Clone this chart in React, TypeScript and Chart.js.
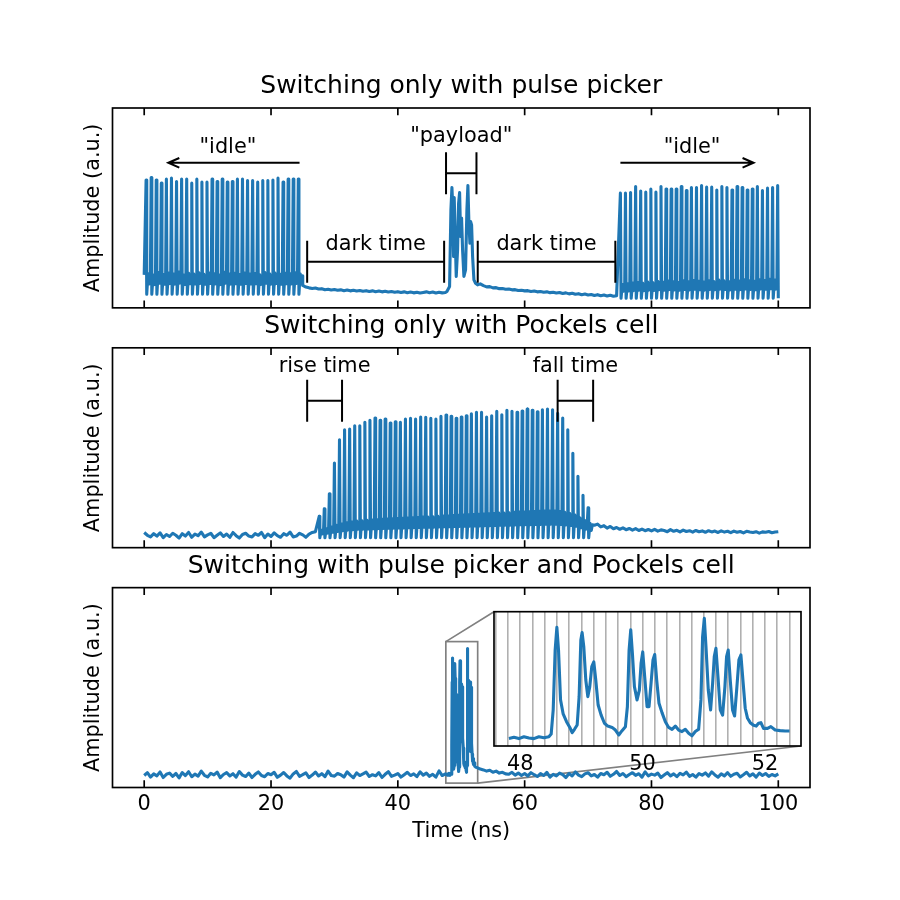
import { useEffect, useRef } from "react";
import { Chart, registerables } from "chart.js";

Chart.register(...registerables);

const FONT = "DejaVu Sans";
const BLUE = "#1f77b4";
Chart.defaults.font.family = FONT;
Chart.defaults.color = "#000";

// ---------------- data (time in ns, amplitude in a.u. x1000) ----------------
const xTickValues = [0, 20, 40, 60, 80, 100];
const pulsePeriod = 0.8;
const ringOffsets = [0.1, 0.3, 0.5, 0.68];
const ringShape = [0, 1, 0.5, 0.9];
const sampleStep = 0.5;
const traceEnd = 100.05;

// panel 1: pulse picker only
const idle1Start = 0.3;
const idle1Lead = 165;
const idle1Peaks = [640, 652, 640, 624, 644, 649, 632, 645, 645, 624, 644, 629, 629, 644, 632, 644, 629, 632, 644, 645, 637, 637, 629, 637, 637, 640, 649, 629, 644, 645, 645];
const idle1Ring = [172, 165, 178, 168, 175, 170, 180, 166, 174, 171, 177, 169, 176, 172, 165, 179, 170, 174, 168, 176, 171, 173, 167, 178, 170, 175, 169, 174, 172, 177, 171];
const idle1Low = 68;
const dark1Start = 25;
const dark1 = [112, 104, 100, 97, 99, 94, 96, 91, 93, 89, 92, 88, 90, 86, 89, 85, 88, 84, 87, 83, 86, 82, 85, 81, 84, 80, 83, 79, 82, 78, 81, 77, 80, 76, 79, 75, 78, 74, 77, 80, 76, 79, 74, 78, 75, 77];
const payload1T = [47.74, 48.16, 48.37, 48.53, 48.68, 48.79, 48.89, 49.05, 49.21, 49.42, 49.58, 49.74, 49.9, 50.05, 50.21, 50.42, 50.68, 50.89, 51.05, 51.21, 51.37, 51.47, 51.63, 51.79, 52.0, 52.26, 52.58];
const payload1V = [82, 107, 490, 602, 490, 257, 552, 357, 157, 290, 523, 577, 357, 449, 290, 157, 190, 490, 612, 423, 323, 432, 415, 257, 140, 123, 115];
const dark2Start = 53;
const dark2 = [120, 111, 105, 106, 100, 101, 96, 97, 93, 94, 90, 91, 87, 88, 85, 86, 82, 84, 80, 82, 78, 80, 76, 78, 74, 77, 72, 75, 70, 73, 68, 71, 66, 69, 64, 67, 62, 66, 61, 64, 59, 63, 58, 61];
const idle2Start = 75.1;
const idle2Peaks = [574, 574, 577, 607, 585, 579, 594, 579, 607, 595, 594, 595, 607, 587, 602, 602, 612, 604, 604, 590, 607, 602, 590, 607, 602, 590, 595, 607, 587, 599, 602, 612];
const idle2Ring = [118, 122, 125, 128, 124, 130, 127, 133, 129, 135, 131, 128, 136, 132, 138, 134, 130, 137, 133, 140, 136, 132, 139, 135, 141, 137, 134, 142, 138, 144, 140, 146];
const idle2Low = 48;

// panel 2: Pockels cell only
const pcPreStart = 0;
const pcPre = [76, 62, 54, 70, 58, 74, 50, 66, 56, 72, 62, 48, 70, 58, 76, 52, 68, 60, 78, 54, 64, 72, 50, 62, 74, 56, 68, 52, 76, 60, 48, 66, 72, 58, 54, 70, 62, 76, 50, 68, 56, 74, 60, 52, 70, 62, 78, 54, 58, 72, 64, 52, 68, 76, 80];
const pcStart = 27.6;
const pcPeaks = [157, 194, 270, 424, 540, 590, 594, 610, 610, 627, 637, 649, 637, 644, 624, 630, 627, 644, 647, 644, 654, 652, 647, 644, 657, 664, 657, 647, 654, 660, 670, 677, 677, 654, 660, 682, 665, 687, 682, 677, 684, 694, 687, 680, 690, 694, 690, 672, 649, 590, 472, 357, 262, 199];
const pcRing = [88, 96, 104, 112, 120, 126, 130, 134, 136, 138, 140, 141, 143, 144, 146, 147, 148, 150, 151, 152, 154, 155, 156, 158, 159, 160, 162, 163, 164, 166, 167, 168, 170, 171, 172, 174, 175, 176, 178, 179, 180, 181, 182, 183, 184, 185, 184, 182, 178, 172, 164, 150, 136, 122];
const pcLow = 50;
const pcPostStart = 71;
const pcPost = [112, 118, 104, 110, 98, 106, 95, 101, 92, 99, 90, 96, 88, 95, 86, 93, 85, 91, 84, 92, 83, 89, 86, 80, 90, 82, 87, 79, 88, 81, 85, 78, 86, 80, 84, 77, 85, 79, 83, 76, 84, 78, 82, 75, 83, 77, 81, 74, 82, 78, 76, 80, 73, 79, 77, 81, 75, 78, 80];

// panel 3: pulse picker and Pockels cell (payload shared with inset)
const p3PreStart = 0;
const p3Pre = [60, 74, 52, 68, 58, 78, 50, 66, 72, 56, 70, 48, 75, 60, 79, 54, 67, 57, 82, 61, 53, 71, 63, 77, 49, 65, 74, 58, 69, 52, 80, 62, 55, 72, 50, 66, 78, 60, 54, 70, 64, 76, 51, 62, 75, 58, 47, 68, 80, 56, 64, 73, 50, 62, 77, 58, 69, 54, 82, 60, 57, 70, 64, 52, 78, 62, 49, 73, 60, 68, 77, 55, 64, 58, 74, 50, 66, 79, 56, 62, 70, 52, 64, 76, 60, 68, 54, 78, 62, 72, 56, 66, 52, 83, 60, 68];
const payloadT = [47.814, 47.896, 47.977, 48.059, 48.141, 48.222, 48.304, 48.385, 48.467, 48.505, 48.538, 48.57, 48.598, 48.625, 48.658, 48.701, 48.756, 48.81, 48.848, 48.886, 48.93, 48.962, 48.99, 49.011, 49.038, 49.071, 49.104, 49.136, 49.169, 49.202, 49.234, 49.273, 49.322, 49.376, 49.43, 49.501, 49.555, 49.61, 49.664, 49.719, 49.751, 49.779, 49.806, 49.833, 49.866, 49.909, 49.947, 49.975, 50.002, 50.034, 50.073, 50.105, 50.138, 50.17, 50.198, 50.23, 50.268, 50.317, 50.372, 50.426, 50.481, 50.535, 50.589, 50.644, 50.698, 50.753, 50.807, 50.862, 50.916, 50.954, 50.981, 51.009, 51.036, 51.074, 51.112, 51.145, 51.172, 51.199, 51.232, 51.27, 51.308, 51.346, 51.373, 51.4, 51.433, 51.471, 51.504, 51.542, 51.575, 51.607, 51.64, 51.678, 51.716, 51.76, 51.814, 51.858, 51.896, 51.934, 51.977, 52.043, 52.097, 52.168, 52.249, 52.331, 52.402];
const payloadV = [62, 68, 61, 71, 64, 61, 71, 66, 71, 85, 212, 528, 648, 528, 265, 191, 150, 120, 92, 110, 133, 282, 581, 620, 546, 370, 282, 335, 440, 465, 370, 238, 185, 142, 127, 120, 106, 80, 103, 124, 229, 528, 634, 511, 335, 265, 317, 458, 518, 388, 229, 229, 352, 476, 504, 370, 247, 198, 150, 120, 110, 127, 106, 98, 110, 89, 76, 98, 110, 265, 599, 695, 546, 317, 212, 352, 493, 537, 388, 212, 185, 335, 493, 528, 370, 212, 180, 335, 476, 502, 370, 221, 168, 145, 131, 127, 142, 145, 115, 115, 124, 106, 103, 101, 101];
const p3PostStart = 52.5;
const p3Post = [100, 92, 88, 82, 86, 76, 82, 72, 76, 68, 66, 76, 62, 72, 60, 70, 58, 74, 64, 55, 70, 60, 76, 52, 66, 58, 72, 64, 50, 70, 58, 78, 62, 54, 68, 74, 58, 65, 52, 70, 64, 76, 56, 66, 80, 60, 70, 54, 65, 74, 61, 69, 52, 78, 58, 67, 62, 72, 50, 62, 74, 58, 68, 54, 71, 63, 77, 56, 65, 52, 70, 62, 73, 57, 78, 63, 52, 68, 58, 74, 56, 66, 71, 53, 64, 76, 58, 68, 52, 72, 60, 70, 56, 65, 58, 68];

// inset
const insetXRange = [47.57, 52.59];
const insetYRange = [22, 730];
const insetGridStep = 0.2;
const insetLabelled = [48, 50, 52];

// annotations (data coordinates)
const p1Arrows = [
  { from: 24.5, to: 3.8, y: 726 },
  { from: 75.1, to: 96.1, y: 726 },
];
const p1Brackets = [
  { x1: 47.6, x2: 52.4, y: 673 },
  { x1: 25.7, x2: 47.3, y: 231 },
  { x1: 52.6, x2: 74.3, y: 231 },
];
const p1Labels = [
  { text: '"idle"', x: 13.2, y: 776 },
  { text: '"idle"', x: 86.4, y: 776 },
  { text: '"payload"', x: 50.0, y: 831 },
  { text: "dark time", x: 36.5, y: 289 },
  { text: "dark time", x: 63.45, y: 289 },
];
const p2Brackets = [
  { x1: 25.7, x2: 31.2, y: 735 },
  { x1: 65.2, x2: 70.8, y: 735 },
];
const p2Labels = [
  { text: "rise time", x: 28.45, y: 877 },
  { text: "fall time", x: 68.0, y: 877 },
];

// ---------------- layout / style ----------------
const FIG = 900;
const AX_LEFT = 112.5;
const AX_RIGHT = 810;
const PANEL_TOPS = [108, 347.82, 587.65];
const PANEL_H = 199.85;
const TITLE_BLOCK = 108;
const INSET_BOX = { left: 494, top: 611.7, right: 801, bottom: 746 };
const INSET_AXIS_H = 40;
const LABEL_SIZE = 20.83;
const TITLE_SIZE = 25;
const SPINE_W = 1.67;
const TICK_LEN = 7.3;

// ---------------- builders ----------------
type P = { x: number; y: number };
const sampled = (start: number, vals: number[]): P[] => vals.map((v, i) => ({ x: start + i * sampleStep, y: v }));
const paired = (ts: number[], vs: number[]): P[] => ts.map((t, i) => ({ x: t, y: vs[i] }));
function train(start: number, peaks: number[], ring: number[], low: number): P[] {
  const pts: P[] = [];
  peaks.forEach((p, k) => {
    const t = start + k * pulsePeriod;
    pts.push({ x: t, y: p });
    ringOffsets.forEach((o, j) => pts.push({ x: t + o, y: low + ringShape[j] * (ring[k] - low) }));
  });
  return pts;
}
const clipEnd = (pts: P[]) => pts.filter((p) => p.x <= traceEnd);

const trace1 = clipEnd([
  { x: 0, y: idle1Lead },
  ...train(idle1Start, idle1Peaks, idle1Ring, idle1Low),
  ...sampled(dark1Start, dark1),
  ...paired(payload1T, payload1V),
  ...sampled(dark2Start, dark2),
  ...train(idle2Start, idle2Peaks, idle2Ring, idle2Low),
]);
const trace2 = clipEnd([
  ...sampled(pcPreStart, pcPre),
  ...train(pcStart, pcPeaks, pcRing, pcLow),
  ...sampled(pcPostStart, pcPost),
]);
const trace3 = clipEnd([...sampled(p3PreStart, p3Pre), ...paired(payloadT, payloadV), ...sampled(p3PostStart, p3Post)]);

const font = (size: number) => ({ family: FONT, size, weight: "normal" as const, lineHeight: 1.2 });

const framePlugin = {
  id: "frame",
  afterDraw(chart: any) {
    const { ctx, chartArea: a, scales } = chart;
    ctx.save();
    ctx.strokeStyle = "#000";
    ctx.lineWidth = SPINE_W;
    ctx.strokeRect(a.left, a.top, a.right - a.left, a.bottom - a.top);
    ctx.beginPath();
    xTickValues.forEach((v) => {
      const px = scales.x.getPixelForValue(v);
      ctx.moveTo(px, a.bottom);
      ctx.lineTo(px, a.bottom - TICK_LEN);
      ctx.moveTo(px, a.top);
      ctx.lineTo(px, a.top + TICK_LEN);
    });
    ctx.stroke();
    ctx.restore();
  },
};

function notesPlugin(arrows: any[], brackets: any[], labels: any[]) {
  return {
    id: "notes",
    afterDatasetsDraw(chart: any) {
      const { ctx, scales } = chart;
      const X = (v: number) => scales.x.getPixelForValue(v);
      const Y = (v: number) => scales.y.getPixelForValue(v);
      ctx.save();
      ctx.strokeStyle = "#000";
      ctx.lineWidth = 2;
      ctx.lineCap = "butt";
      arrows.forEach((a) => {
        const x1 = X(a.from), x2 = X(a.to), y = Y(a.y);
        const dir = Math.sign(x2 - x1);
        ctx.beginPath();
        ctx.moveTo(x1, y);
        ctx.lineTo(x2, y);
        ctx.moveTo(x2 - dir * 11, y - 4.8);
        ctx.lineTo(x2, y);
        ctx.lineTo(x2 - dir * 11, y + 4.8);
        ctx.stroke();
      });
      brackets.forEach((b) => {
        const x1 = X(b.x1), x2 = X(b.x2), y = Y(b.y);
        ctx.beginPath();
        ctx.moveTo(x1, y);
        ctx.lineTo(x2, y);
        ctx.moveTo(x1, y - 21);
        ctx.lineTo(x1, y + 21);
        ctx.moveTo(x2, y - 21);
        ctx.lineTo(x2, y + 21);
        ctx.stroke();
      });
      ctx.fillStyle = "#000";
      ctx.font = `${LABEL_SIZE}px "${FONT}"`;
      ctx.textAlign = "center";
      ctx.textBaseline = "alphabetic";
      labels.forEach((l) => ctx.fillText(l.text, X(l.x), Y(l.y)));
      ctx.restore();
    },
  };
}

const insetMarkPlugin = {
  id: "insetMark",
  beforeDatasetsDraw(chart: any) {
    const { ctx, scales } = chart;
    const l = scales.x.getPixelForValue(insetXRange[0]);
    const r = scales.x.getPixelForValue(insetXRange[1]);
    const t = scales.y.getPixelForValue(insetYRange[1]);
    const b = scales.y.getPixelForValue(insetYRange[0]);
    ctx.save();
    ctx.strokeStyle = "#808080";
    ctx.lineWidth = SPINE_W;
    ctx.strokeRect(l, t, r - l, b - t);
    ctx.beginPath();
    ctx.moveTo(l, t);
    ctx.lineTo(INSET_BOX.left, INSET_BOX.top);
    ctx.moveTo(r, b);
    ctx.lineTo(INSET_BOX.right, INSET_BOX.bottom);
    ctx.stroke();
    ctx.restore();
  },
};

const insetBgPlugin = {
  id: "insetBg",
  beforeDraw(chart: any) {
    const { ctx, chartArea: a } = chart;
    ctx.save();
    ctx.fillStyle = "#fff";
    ctx.fillRect(a.left, a.top, a.right - a.left, a.bottom - a.top);
    ctx.restore();
  },
  afterDraw(chart: any) {
    const { ctx, chartArea: a } = chart;
    ctx.save();
    ctx.strokeStyle = "#000";
    ctx.lineWidth = SPINE_W;
    ctx.strokeRect(a.left, a.top, a.right - a.left, a.bottom - a.top);
    ctx.restore();
  },
};

function panelConfig(idx: number, title: string, points: P[], extra: any[], showX: boolean): any {
  const top = PANEL_TOPS[idx];
  const bottom = top + PANEL_H;
  const xScale: any = {
    type: "linear",
    min: -5,
    max: 105,
    display: showX,
    grid: { display: false, drawTicks: false },
    border: { display: false },
    ticks: { stepSize: 20, includeBounds: false, autoSkip: false, maxRotation: 0, padding: 4.5, color: "#000", font: font(LABEL_SIZE) },
    title: { display: true, text: "Time (ns)", color: "#000", font: font(LABEL_SIZE), padding: { top: 0, bottom: 55.5 } },
  };
  if (showX) {
    xScale.afterFit = (s: any) => {
      s.height = FIG - bottom;
    };
  }
  return {
    type: "line",
    data: {
      datasets: [
        { data: points, borderColor: BLUE, borderWidth: 3.1, pointRadius: 0, tension: 0, fill: false, borderJoinStyle: "round" },
      ],
    },
    options: {
      responsive: false,
      animation: false,
      events: [],
      layout: { padding: { left: 0, right: FIG - AX_RIGHT, top: top - TITLE_BLOCK, bottom: showX ? 0 : FIG - bottom } },
      plugins: {
        legend: { display: false },
        tooltip: { enabled: false },
        title: {
          display: true,
          text: title,
          fullSize: false,
          color: "#000",
          font: font(TITLE_SIZE),
          padding: { top: 71.8, bottom: 6.2 },
        },
      },
      scales: {
        x: xScale,
        y: {
          min: 0,
          max: 1000,
          display: true,
          ticks: { display: false },
          grid: { display: false, drawTicks: false },
          border: { display: false },
          title: { display: true, text: "Amplitude (a.u.)", color: "#000", font: font(LABEL_SIZE), padding: { top: 81, bottom: 0 } },
          afterFit: (s: any) => {
            s.width = AX_LEFT;
          },
        },
      },
    },
    plugins: [framePlugin, ...extra],
  };
}

function insetConfig(): any {
  return {
    type: "line",
    data: {
      datasets: [
        { data: paired(payloadT, payloadV), borderColor: BLUE, borderWidth: 3.1, pointRadius: 0, tension: 0, fill: false, borderJoinStyle: "round" },
      ],
    },
    options: {
      responsive: false,
      animation: false,
      events: [],
      layout: {
        padding: {
          left: INSET_BOX.left,
          right: FIG - INSET_BOX.right,
          top: INSET_BOX.top,
          bottom: FIG - INSET_BOX.bottom - INSET_AXIS_H,
        },
      },
      plugins: { legend: { display: false }, tooltip: { enabled: false }, title: { display: false } },
      scales: {
        x: {
          type: "linear",
          min: insetXRange[0],
          max: insetXRange[1],
          grid: { color: "#b0b0b0", lineWidth: 1.6, drawTicks: false },
          border: { display: false },
          ticks: {
            stepSize: insetGridStep,
            includeBounds: false,
            autoSkip: false,
            maxRotation: 0,
            minRotation: 0,
            padding: 6,
            color: "#000",
            font: font(LABEL_SIZE),
            callback: (v: number) => {
              const hit = insetLabelled.find((l) => Math.abs(l - v) < 1e-6);
              return hit === undefined ? "" : String(hit);
            },
          },
          afterFit: (s: any) => {
            s.height = INSET_AXIS_H;
          },
        },
        y: { min: insetYRange[0], max: insetYRange[1], display: false },
      },
    },
    plugins: [insetBgPlugin],
  };
}

export default function App() {
  const r1 = useRef<HTMLCanvasElement>(null);
  const r2 = useRef<HTMLCanvasElement>(null);
  const r3 = useRef<HTMLCanvasElement>(null);
  const r4 = useRef<HTMLCanvasElement>(null);

  useEffect(() => {
    const charts = [
      new Chart(r1.current!, panelConfig(0, "Switching only with pulse picker", trace1, [notesPlugin(p1Arrows, p1Brackets, p1Labels)], false)),
      new Chart(r2.current!, panelConfig(1, "Switching only with Pockels cell", trace2, [notesPlugin([], p2Brackets, p2Labels)], false)),
      new Chart(r3.current!, panelConfig(2, "Switching with pulse picker and Pockels cell", trace3, [insetMarkPlugin], true)),
      new Chart(r4.current!, insetConfig()),
    ];
    return () => charts.forEach((c) => c.destroy());
  }, []);

  const cs: any = { position: "absolute", left: 0, top: 0 };
  return (
    <div style={{ position: "absolute", left: 0, top: 0, width: FIG, height: FIG, background: "#fff", overflow: "hidden" }}>
      <canvas ref={r1} width={FIG} height={FIG} style={cs} />
      <canvas ref={r2} width={FIG} height={FIG} style={cs} />
      <canvas ref={r3} width={FIG} height={FIG} style={cs} />
      <canvas ref={r4} width={FIG} height={FIG} style={cs} />
    </div>
  );
}
